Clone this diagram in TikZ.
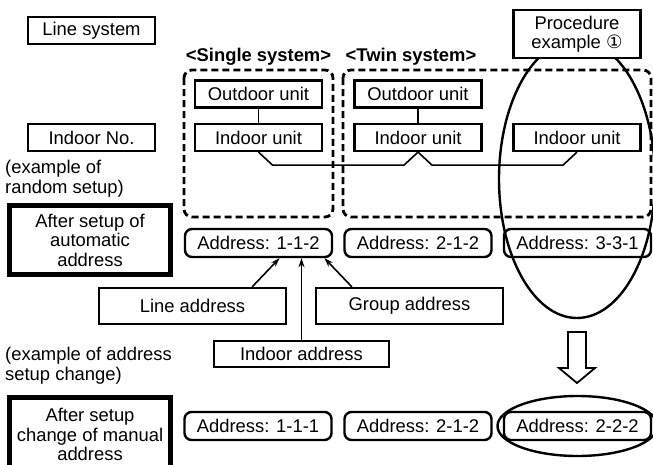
\documentclass[tikz,border=0pt]{standalone}
\usepackage{fontspec}
\setmainfont{Liberation Sans}
\newfontfamily\circfont{DejaVu Sans}
\usetikzlibrary{positioning,arrows.meta,calc}

\begin{document}
\begin{tikzpicture}[x=1pt,y=-1pt,
    every node/.style={font=\fontsize{18.4}{19.5}\selectfont, inner sep=0pt},
    unitbox/.style={draw, line width=2.2pt, fill=white, minimum width=127pt, minimum height=27pt},
    tagbox/.style={draw, line width=2.2pt, fill=white, align=center},
    addrbox/.style={draw, line width=2.4pt, rounded corners=7pt, minimum width=147pt, minimum height=28pt},
    headbox/.style={draw, line width=5pt, align=center, minimum width=161pt},
    sysframe/.style={draw, line width=2.8pt, dash pattern=on 7pt off 4pt, rounded corners=8pt},
    note/.style={anchor=north west, align=left},
    pipe/.style={line width=1.6pt},
    pointer/.style={line width=1.6pt, -{Stealth[length=9pt,width=6pt]}}]
    \useasboundingbox (0,0) rectangle (653,464);
    \clip (0,0) rectangle (653,464);

    % left column
    \node[unitbox] (linesys) at (91.5,30.5) {Line system};
    \node[unitbox] (indoorno) at (91.5,137.5) {Indoor No.};
    \node[note] (random) at (5,160) {(example of\\random setup)};
    \node[headbox, minimum height=69pt] (auto) at (90,240) {After setup of\\automatic\\address};
    \node[note] (change) at (5,347) {(example of address\\setup change)};
    \node[headbox, minimum height=76pt, text depth=1pt] (manual) at (90,435) {After setup\\change of manual\\address};

    % system frames
    \draw[sysframe] (184,70) rectangle (333,217);
    \draw[sysframe] (343,70) rectangle (651,217);
    \node[font=\fontsize{18.4}{19.5}\selectfont\bfseries] (single) at (258.5,57) {<Single system>};
    \node[font=\fontsize{18.4}{19.5}\selectfont\bfseries] (twin) at (411,57) {<Twin system>};

    % procedure ellipse behind its box
    \draw[line width=2.4pt] (577,179) ellipse [x radius=78pt, y radius=139pt];
    \node[tagbox, minimum width=127pt, minimum height=48pt] (proc) at (577,34) {Procedure\\example {\circfont ①}};

    \node[unitbox] (out1) at (258.5,94) {Outdoor unit};
    \node[unitbox] (in1) at (258.5,137.5) {Indoor unit};
    \node[unitbox] (out2) at (418,94) {Outdoor unit};
    \node[unitbox] (in2) at (418,137.5) {Indoor unit};
    \node[unitbox] (in3) at (577,137.5) {Indoor unit};
    \draw[pipe] (out1) -- (in1);
    \draw[pipe] (out2) -- (in2);
    \draw[pipe] (in1.south) -- ++(14,13) -- ($(in2.south)+(-14,13)$) -- (in2.south)
        -- ++(14,13) -- ($(in3.south)+(-14,13)$) -- (in3.south);

    % automatic addresses
    \node[addrbox] (a112) at (258.5,243) {Address: 1-1-2};
    \node[addrbox] (a212) at (418,243) {Address: 2-1-2};
    \node[addrbox] (a331) at (577.5,243) {Address: 3-3-1};

    \node[tagbox, minimum width=187pt, minimum height=36pt] (lineaddr) at (192.5,306) {Line address};
    \node[tagbox, minimum width=187pt, minimum height=36pt] (groupaddr) at (409.5,306) {Group address};
    \node[tagbox, minimum width=175pt, minimum height=26pt] (indooraddr) at (301.5,354) {Indoor address};
    \draw[pointer] ($(lineaddr.north east)+(-35,0)$) -- ($(a112.south)+(21,0)$);
    \draw[pointer] (indooraddr.north) -- (indooraddr.north |- a112.south);
    \draw[pointer] ($(groupaddr.north west)+(37,0)$) -- ($(a112.south)+(66,0)$);

    % manual addresses
    \coordinate (stem) at (577,332);
    \draw[line width=1.8pt] (stem) ++(-9,0) -- ++(18,0) -- ++(0,36) -- ++(9,0) -- (577,383)
        -- ++(-18,-15) -- ++(9,0) -- cycle;
    \node[addrbox] (a111) at (258,426) {Address: 1-1-1};
    \node[addrbox] (a212b) at (418,426) {Address: 2-1-2};
    \node[addrbox] (a222) at (577.5,426) {Address: 2-2-2};
    \draw[line width=2.4pt] (a222) ellipse [x radius=80pt, y radius=30pt];
\end{tikzpicture}
\end{document}
